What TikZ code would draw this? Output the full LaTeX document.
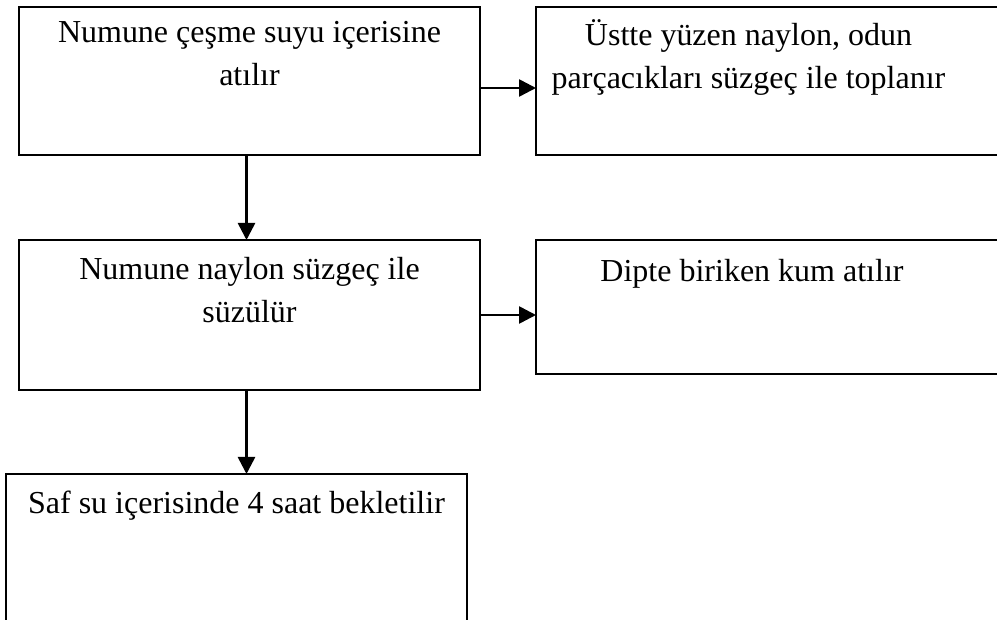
\documentclass[tikz,border=0pt]{standalone}
\usepackage{fontspec}
\setmainfont{Liberation Serif}
\usetikzlibrary{arrows.meta}
\begin{document}
\begin{tikzpicture}[x=0.5pt,y=-0.5pt,
  box/.style={draw,line width=1.3pt,inner sep=0pt,outer sep=0pt},
  txt/.style={font=\fontsize{16}{21.5}\selectfont,align=center,inner sep=0pt,anchor=base},
  arr/.style={-{Triangle[length=8.5pt,width=8.5pt]},line width=1.3pt}]
\clip (0,0) rectangle (997,620);
\node[box,minimum width=230.5pt,minimum height=74pt] (A) at (249.5,81) {};
\node[box,minimum width=237pt,minimum height=74pt] (R1) at (773,81) {};
\node[box,minimum width=230.5pt,minimum height=75pt] (B) at (249.5,315) {};
\node[box,minimum width=237pt,minimum height=67pt] (R2) at (773,307) {};
\node[box,minimum width=230.5pt,minimum height=88pt] (C) at (236.5,562) {};
\node[txt] (At) at (249.5,86) {Numune çeşme suyu içerisine\\atılır};
\node[txt] (R1t) at (748.5,89) {Üstte yüzen naylon, odun\\parçacıkları süzgeç ile toplanır};
\node[txt] (Bt) at (249.5,323) {Numune naylon süzgeç ile\\süzülür};
\node[txt] (R2t) at (752,282) {Dipte biriken kum atılır};
\node[txt] (Ct) at (236.5,513) {Saf su içerisinde 4 saat bekletilir};
\draw[arr] ([xshift=-1.5pt]A.south) -- ([xshift=-1.5pt]A.south |- B.north);
\draw[arr] ([yshift=-3.5pt]A.east) -- ([yshift=-3.5pt]A.east -| R1.west);
\draw[arr] (B.east) -- (B.east -| R2.west);
\draw[arr] ([xshift=-1.5pt]B.south) -- ([xshift=-1.5pt]B.south |- C.north);
\end{tikzpicture}
\end{document}
